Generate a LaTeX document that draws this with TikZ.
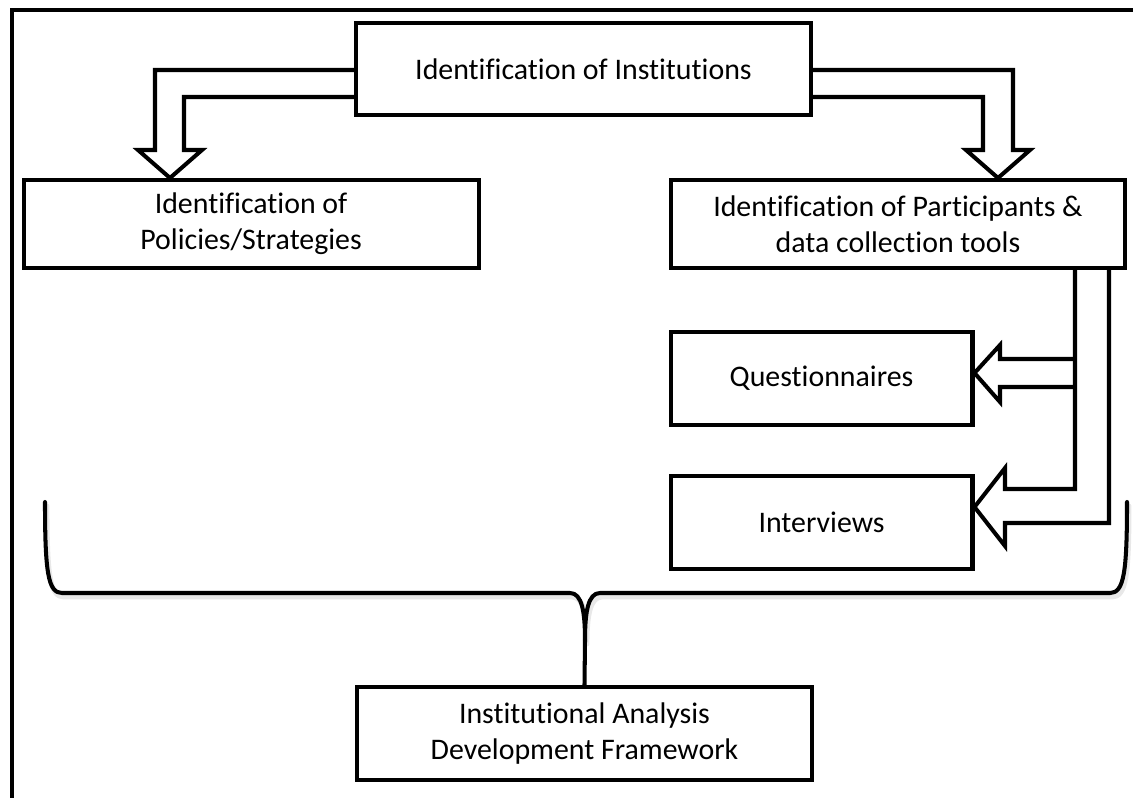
\documentclass[tikz,border=0pt]{standalone}
\usepackage{fontspec}
\setmainfont{Carlito}[Ligatures=NoCommon]
\usetikzlibrary{positioning}

\begin{document}
\begin{tikzpicture}[x=0.02cm, y=-0.02cm, every node/.style={font=\fontsize{17}{20.5}\selectfont}, stagebox/.style={draw, line width=2.3pt, rectangle, align=center, inner sep=0pt, minimum width=9.1cm, minimum height=1.76cm}, toolbox/.style={stagebox, minimum width=6.04cm, minimum height=1.86cm}, hollow/.style={draw, line width=2.3pt, line join=miter}, bracket/.style={line width=2.3pt, line join=round, line cap=round}, bracketshadow/.style={bracket, gray!18, line width=2.8pt}]
            \useasboundingbox (0,0) rectangle (1133,798);
            % frame
            \draw[line width=2.3pt] (12,798)--(12,10)--(1133,10);
            % level 0
            \node[stagebox, minimum height=1.84cm] (inst) at (583.5,69) {Identification of Institutions};
            % level 1
            \node[stagebox] (part) at (898,224) {Identification of Participants \&\\data collection tools};
            \node[stagebox, left=3.76cm of part] (pol) {Identification of\\Policies/Strategies};
            \draw[hollow] (inst.west |- 0,70)--(155,70)--(155,150)--(138,150)--(pol.north -| 170,0)--(202,150)--(184,150)--(184,97)--(inst.west |- 0,97);
            \draw[hollow] (inst.east |- 0,70)--(1013,70)--(1013,150)--(1030,150)--(part.north -| 998,0)--(966,150)--(983,150)--(983,97)--(inst.east |- 0,97);
            % level 2
            \node[toolbox, below=1.2cm of part.south west, anchor=north west] (quest) {Questionnaires};
            \node[toolbox, below=0.94cm of quest] (inter) {Interviews};
            \draw[hollow] (part.south -| 1075,0)--(1075,489)--(1005,489)--(1005,468)--(inter.east |- 0,507)--(1005,546)--(1005,523)--(1109,523)--(part.south -| 1109,0);
            \draw[hollow] (1075,359)--(1000,359)--(1000,345)--(quest.east |- 0,373)--(1000,402)--(1000,387)--(1075,387);
            % level 3
            \node[stagebox, minimum height=1.86cm] (iad) at (584.5,733.5) {Institutional Analysis\\Development Framework};
            \draw[bracketshadow, shift={(2,4)}] (45,502) .. controls (45,572) and (48,593) .. (62,593)--(570,593) .. controls (582,593) and (585,612) .. (585,640) .. controls (585,612) and (588,593) .. (600,593)--(1110,593) .. controls (1124,593) and (1127,572) .. (1127,502);
            \draw[bracket] (45,502) .. controls (45,572) and (48,593) .. (62,593)--(570,593) .. controls (582,593) and (585,612) .. (585,640) .. controls (585,612) and (588,593) .. (600,593)--(1110,593) .. controls (1124,593) and (1127,572) .. (1127,502);
            \draw[bracket] (585,640)--(iad.north);
        \end{tikzpicture}
\end{document}
